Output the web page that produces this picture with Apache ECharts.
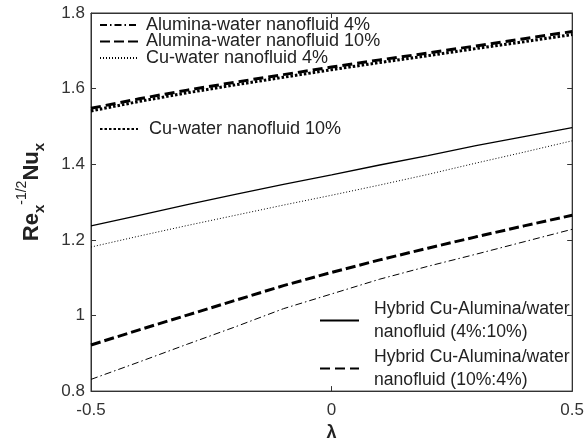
<!DOCTYPE html>
<html><head><meta charset="utf-8">
<script src="https://cdn.jsdelivr.net/npm/echarts@6/dist/echarts.min.js"></script>
<style>html,body{margin:0;padding:0;background:#fff}#c{width:587px;height:447px}</style>
</head><body><div id="c"></div>
<script>
const lambda = [-0.5,-0.4,-0.3,-0.2,-0.1,0,0.1,0.2,0.3,0.4,0.5];
const alumina4 = [0.831,0.877,0.924,0.970,1.018,1.057,1.096,1.130,1.162,1.195,1.228];
const alumina10 = [0.922,0.962,1.001,1.040,1.079,1.114,1.147,1.178,1.208,1.237,1.265];
const cu4 = [1.181,1.210,1.238,1.265,1.292,1.318,1.345,1.373,1.403,1.432,1.462];
const cu10 = [1.541,1.566,1.589,1.610,1.630,1.650,1.669,1.687,1.706,1.724,1.743];
const hybrid4_10 = [1.237,1.265,1.293,1.320,1.347,1.372,1.398,1.423,1.449,1.473,1.497];
const hybrid10_4 = [1.548,1.573,1.596,1.617,1.637,1.657,1.676,1.694,1.713,1.732,1.751];
const yTicks = [0.8,1,1.2,1.4,1.6,1.8];
const xTicks = [-0.5,0,0.5];

const names = {
  a4:'Alumina-water nanofluid 4%', a10:'Alumina-water nanofluid 10%', c4:'Cu-water nanofluid 4%',
  c10:'Cu-water nanofluid 10%', h1:'Hybrid Cu-Alumina/water\nnanofluid (4%:10%)', h2:'Hybrid Cu-Alumina/water\nnanofluid (10%:4%)'
};
const pair = arr => lambda.map((x,i)=>[x,arr[i]]);
const font = 'Liberation Sans, Arial, sans-serif';
function S(name, data, w, type){
  return {name, type:'line', data:pair(data), symbol:'none', smooth:false, silent:true,
    lineStyle:{color:'#000', width:w, type:type}, itemStyle:{color:'#000'}};
}
const chart = echarts.init(document.getElementById('c'));
const legBase = {orient:'vertical', itemWidth:38, itemHeight:14, selectedMode:false,
  itemStyle:{opacity:0}};
const axLine = {show:true, onZero:false, lineStyle:{color:'#333'}};
const tick = {inside:true, length:5, lineStyle:{color:'#333'}};
chart.setOption({
  animation:false,
  grid:{left:91, right:12, top:13, bottom:53, show:true, borderColor:'#333', borderWidth:1},
  xAxis:[{type:'value', min:-0.5, max:0.5, interval:0.5, position:'bottom',
    axisLine:axLine, axisTick:tick,
    splitLine:{show:false}, axisLabel:{fontFamily:font, fontSize:17, color:'#333', margin:11, formatter:v=>String(v)},
    name:'λ', nameLocation:'middle', nameGap:24, nameTextStyle:{fontFamily:font, fontSize:18, fontWeight:'bold', color:'#222'}},
    {type:'value', min:-0.5, max:0.5, interval:0.5, position:'top', axisLine:axLine,
    axisTick:tick, axisLabel:{show:false}, splitLine:{show:false}}],
  yAxis:[{type:'value', min:0.8, max:1.8, interval:0.2, position:'left',
    axisLine:axLine, axisTick:tick,
    splitLine:{show:false}, axisLabel:{fontFamily:font, fontSize:17, color:'#333', margin:6, formatter:v=>String(+v.toFixed(1))},
    name:'{b|Re}{s|x}{p|-1/2}{b|Nu}{s|x}', nameLocation:'middle', nameGap:37, nameRotate:90,
    nameTextStyle:{padding:[0,0,0,20], rich:{
      b:{fontFamily:font, fontSize:22, fontWeight:'bold', color:'#222', lineHeight:38, verticalAlign:'middle'},
      s:{fontFamily:font, fontSize:15, fontWeight:'bold', color:'#222', lineHeight:38, verticalAlign:'bottom', padding:[0,0,3,0]},
      p:{fontFamily:font, fontSize:14, color:'#222', lineHeight:38, verticalAlign:'top', padding:[3,0,0,0]}
    }}},
    {type:'value', min:0.8, max:1.8, interval:0.2, position:'right', axisLine:axLine,
    axisTick:tick, axisLabel:{show:false}, splitLine:{show:false}}],
  legend:[
    Object.assign({}, legBase, {data:[names.a4, names.a10, names.c4], left:94, top:11, itemGap:-1.5,
      textStyle:{fontFamily:font, fontSize:18, color:'#222', lineHeight:16, padding:[0,0,0,3]}}),
    Object.assign({}, legBase, {data:[names.c10], left:94, top:115,
      textStyle:{fontFamily:font, fontSize:18, color:'#222', lineHeight:16, padding:[0,0,0,6]}}),
    Object.assign({}, legBase, {data:[names.h1, names.h2], left:314, top:292, itemGap:1, itemWidth:39,
      textStyle:{fontFamily:font, fontSize:17.6, color:'#222', lineHeight:23.5, padding:[0,0,0,10]}})
  ],
  series:[
    S(names.a4, alumina4, 1, [7,3,1.5,3]),
    S(names.a10, alumina10, 3, [10,4]),
    S(names.c4, cu4, 1, [1,2]),
    S(names.c10, cu10, 3, [2.5,2]),
    S(names.h1, hybrid4_10, 1.3, 'solid'),
    S(names.h2, hybrid10_4, 3, [10,5])
  ]
});
</script></body></html>
